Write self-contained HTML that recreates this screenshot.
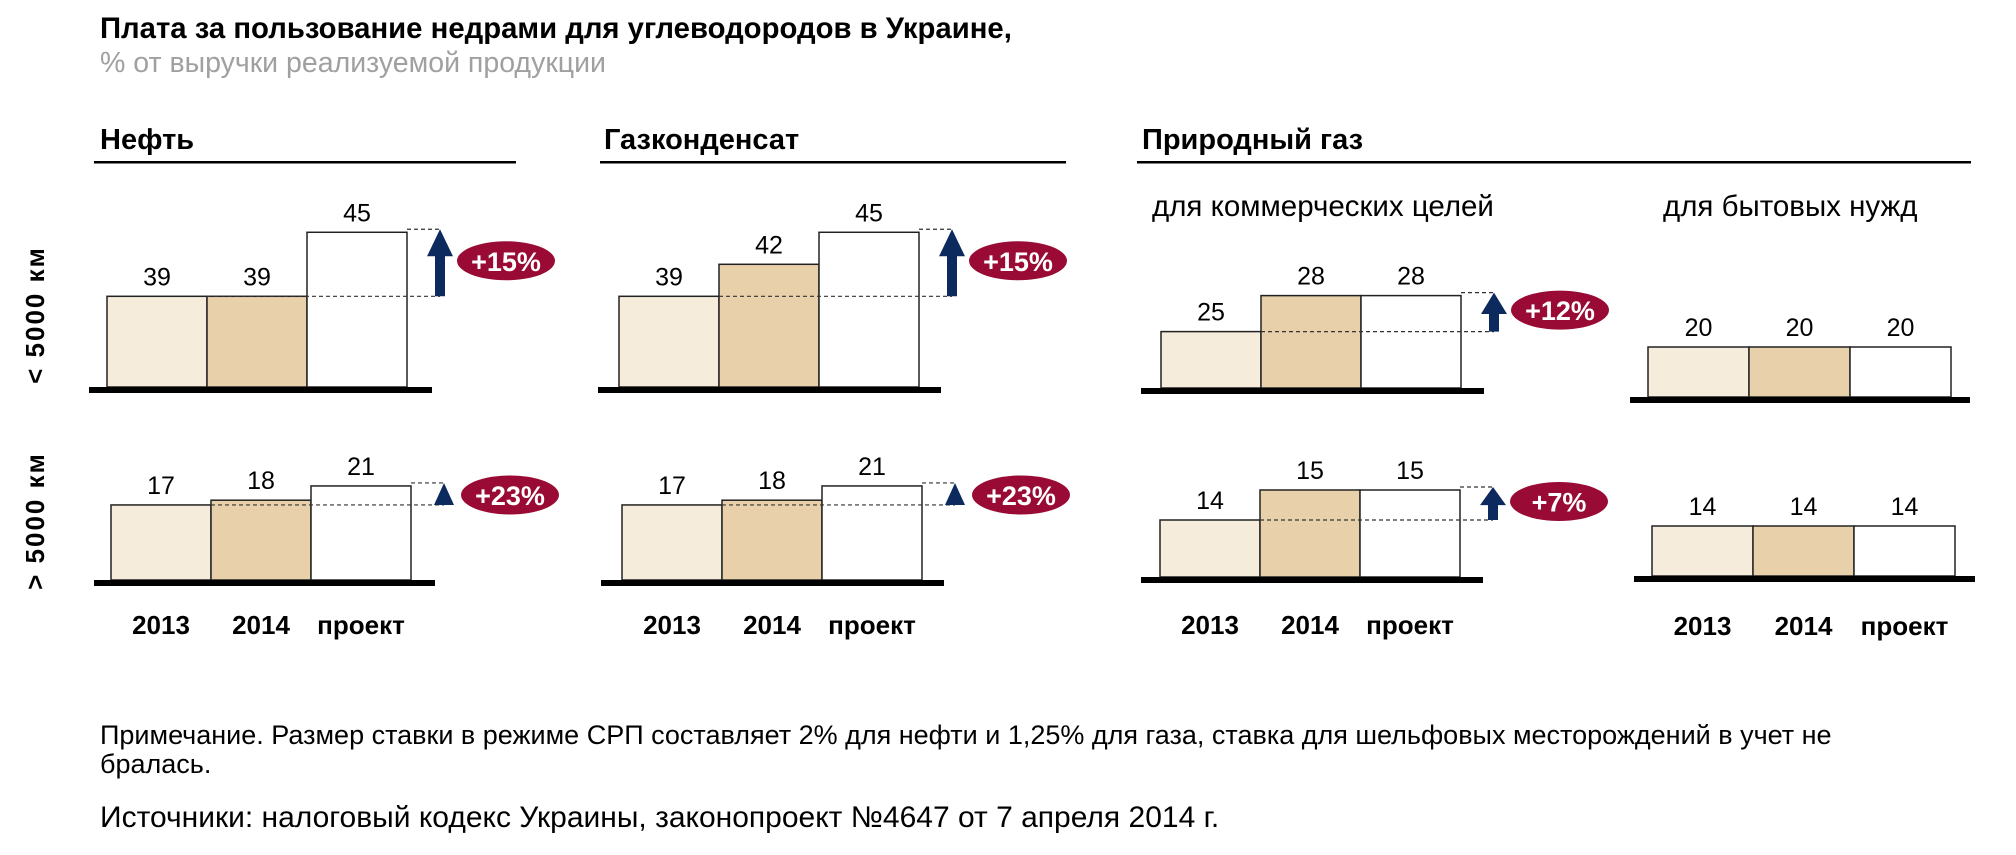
<!DOCTYPE html>
<html><head><meta charset="utf-8">
<style>
body{margin:0;background:#fff;width:2016px;height:850px;overflow:hidden;font-family:"Liberation Sans","DejaVu Sans",sans-serif;}
svg text{font-family:"Liberation Sans","DejaVu Sans",sans-serif;}
</style></head>
<body>
<svg id="chart" width="2016" height="850" viewBox="0 0 2016 850" xmlns="http://www.w3.org/2000/svg">
<text x="100" y="38" font-size="29.3" font-weight="bold" fill="#000">Плата за пользование недрами для углеводородов в Украине,</text>
<text x="100" y="72" font-size="28.5" fill="#a0a0a0">% от выручки реализуемой продукции</text>

<text x="100" y="149" font-size="29" font-weight="bold">Нефть</text>
<rect x="94" y="161" width="422" height="2.5" fill="#000"/>
<text x="604" y="149" font-size="29" font-weight="bold">Газконденсат</text>
<rect x="600" y="161" width="466" height="2.5" fill="#000"/>
<text x="1142" y="149" font-size="29" font-weight="bold">Природный газ</text>
<rect x="1137" y="161" width="834" height="2.5" fill="#000"/>
<text x="1152" y="216" font-size="29.5">для коммерческих целей</text>
<text x="1663" y="216" font-size="29.5">для бытовых нужд</text>

<text transform="translate(44,315) rotate(-90)" text-anchor="middle" font-size="26" font-weight="bold" letter-spacing="2">&lt; 5000 км</text>
<text transform="translate(44,521) rotate(-90)" text-anchor="middle" font-size="26" font-weight="bold" letter-spacing="2">&gt; 5000 км</text>

<g id="panels"></g>

<text x="100" y="744" font-size="27">Примечание. Размер ставки в режиме СРП составляет 2% для нефти и 1,25% для газа, ставка для шельфовых месторождений в учет не</text>
<text x="100" y="773" font-size="27">бралась.</text>
<text x="100" y="827" font-size="30">Источники: налоговый кодекс Украины, законопроект №4647 от 7 апреля 2014 г.</text>
</svg>
<script>
const categories = ["2013", "2014", "проект"];
const oilTop = [39, 39, 45];
const oilBottom = [17, 18, 21];
const condTop = [39, 42, 45];
const condBottom = [17, 18, 21];
const comTop = [25, 28, 28];
const comBottom = [14, 15, 15];
const domTop = [20, 20, 20];
const domBottom = [14, 14, 14];
const changeLabels = ["+15%", "+23%", "+15%", "+23%", "+12%", "+7%"];

const NS = "http://www.w3.org/2000/svg";
const root = document.getElementById("panels");
const fills = ["#f5ecdc", "#e8d0ab", "#ffffff"];
function mk(tag, attrs, parent){
  const e = document.createElementNS(NS, tag);
  for (const k in attrs) e.setAttribute(k, attrs[k]);
  (parent || root).appendChild(e);
  return e;
}
function panel(name, vals, x0, bw, base, zero, ppu, axL, axR, badge, arrowType){
  const g = mk("g", {});
  
  
  const y = v => base - (v - zero) * ppu;
  vals.forEach((v, i) => {
    const r = mk("rect", {x: x0 + i*bw, y: y(v), width: bw, height: base - y(v), fill: fills[i], stroke: "#222", "stroke-width": 1.5}, g);
    
    
    const t = mk("text", {x: x0 + i*bw + bw/2, y: y(v) - 11, "text-anchor": "middle", "font-size": 25}, g);
    t.textContent = v;
    
    
  });
  const ax = mk("rect", {x: axL, y: base, width: axR - axL, height: 6, fill: "#000"}, g);
  
  
  if (badge !== null){
    const last = vals[2], low = vals[0];
    const ax2 = x0 + 3*bw + 25;
    const yHi = y(last) - 3, yLo = y(low);
    const d1 = mk("path", {d: `M${x0+3*bw} ${yHi}H${ax2+8}M${x0 + bw} ${yLo}H${ax2+8}`, stroke: "#333", "stroke-width": 1.2, "stroke-dasharray": "4 3", fill: "none"}, g);
    
    
    const cx = ax2 + 8;
    let d;
    if (arrowType === "tri") {
      d = `M${cx} ${yHi} L${cx+10} ${yLo} L${cx-10} ${yLo} Z`;
    } else {
      const head = Math.min(27, (yLo - yHi) * 0.55);
      d = `M${cx} ${yHi} L${cx+13} ${yHi+head} L${cx+5} ${yHi+head} L${cx+5} ${yLo} L${cx-5} ${yLo} L${cx-5} ${yHi+head} L${cx-13} ${yHi+head} Z`;
    }
    const ar = mk("path", {d: d, fill: "#0c2a5e"}, g);
    
    
    const by = (yHi + yLo) / 2 - 2 + (arrowType === "tri" ? 3 : 0);
    const bcx = cx + 66;
    const el = mk("ellipse", {cx: bcx, cy: by, rx: 49, ry: 19.5, fill: "#990a34"}, g);
    
    
    const bt = mk("text", {x: bcx, y: by + 10, "text-anchor": "middle", "font-size": 27, "font-weight": "bold", fill: "#fff"}, g);
    bt.textContent = changeLabels[badge];
    
    
  }
}
function years(name, x0, bw, yy){
  categories.forEach((c, i) => {
    const t = mk("text", {x: x0 + i*bw + bw/2, y: yy, "text-anchor": "middle", "font-size": 26, "font-weight": "bold"});
    t.textContent = c;
    
    
  });
}
panel("oil-top", oilTop, 107, 100, 387, 30.5, 10.67, 89, 432, 0, "full");
panel("oil-bottom", oilBottom, 111, 100, 580, 1.2, 4.75, 94, 435, 1, "tri");
panel("cond-top", condTop, 619, 100, 387, 30.5, 10.67, 598, 941, 2, "full");
panel("cond-bottom", condBottom, 622, 100, 580, 1.2, 4.75, 601, 944, 3, "tri");
panel("com-top", comTop, 1161, 100, 388, 20.3, 12, 1141, 1484, 4, "full");
panel("com-bottom", comBottom, 1160, 100, 577, 12.1, 30, 1141, 1483, 5, "full");
panel("dom-top", domTop, 1648, 101, 397, 15, 10, 1630, 1970, null);
panel("dom-bottom", domBottom, 1652, 101, 576, 9, 10, 1634, 1975, null);
years("oil", 111, 100, 634);
years("cond", 622, 100, 634);
years("com", 1160, 100, 634);
years("dom", 1652, 101, 635);
</script>
</body></html>
